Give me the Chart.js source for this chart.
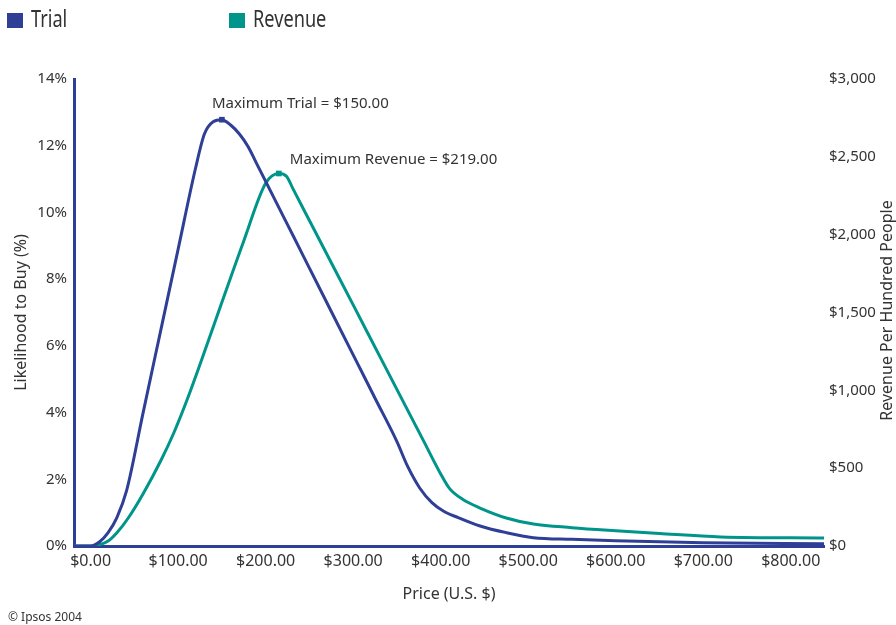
<!DOCTYPE html>
<html lang="en">
<head>
<meta charset="utf-8">
<title>Trial and Revenue by Price</title>
<script src="https://cdn.jsdelivr.net/npm/chart.js@4.4.1/dist/chart.umd.min.js"></script>
<style>
  body { margin: 0; background: #fff; }
  #wrap { position: relative; width: 896px; height: 625px; }
  #chart { position: absolute; left: 0; top: 0; }
  .key { position: absolute; top: 4px; font: 23px "Noto Sans", sans-serif; color: #333; line-height: 28px; white-space: nowrap; }
  .key span { display: inline-block; width: 16px; height: 15px; margin-right: 8px; vertical-align: -1px; }
  .key b { display: inline-block; font-weight: normal; transform: scaleX(0.79); transform-origin: left center; }
  #credit { position: absolute; left: 8px; top: 608px; font: 12px "Noto Sans", sans-serif; color: #333; }
</style>
</head>
<body>
<div id="wrap">
  <canvas id="chart" width="896" height="625"></canvas>
  <div class="key" style="left:7px"><span style="background:#2f3f95"></span><b>Trial</b></div>
  <div class="key" style="left:229px"><span style="background:#00958a"></span><b>Revenue</b></div>
  <div id="credit">© Ipsos 2004</div>
</div>
<script>
// price points (U.S. $)
const trialPrices = [-19, 0, 10, 20, 30, 41, 60, 80, 100, 120, 130, 140, 150, 160, 170, 180, 190, 200, 216, 232, 250, 275, 300, 325, 350, 362, 376, 390, 403, 420, 445, 475, 506, 550, 600, 700, 838];
// likelihood to buy (%)
const trialValues = [0, 0, 0.12, 0.4, 0.85, 1.65, 4.0, 6.45, 8.9, 11.34, 12.35, 12.72, 12.78, 12.62, 12.35, 11.97, 11.45, 10.93, 10.1, 9.27, 8.33, 7.03, 5.73, 4.43, 3.13, 2.4, 1.74, 1.3, 1.05, 0.85, 0.6, 0.4, 0.25, 0.2, 0.16, 0.1, 0.07];

const revenuePrices = [-19, 0, 10, 20, 30, 43, 60, 80, 95, 110, 130, 149, 175, 200, 215, 224, 231, 250, 275, 300, 331, 360, 380, 400, 410, 425, 445, 475, 506, 550, 600, 650, 720, 838];
// revenue per hundred people ($)
const revenueValues = [0, 0, 8, 32, 85, 180, 336, 546, 726, 936, 1246, 1550, 1960, 2330, 2393, 2374, 2297, 2091, 1820, 1549, 1212, 897, 680, 463, 370, 300, 244, 180, 141, 118, 98, 80, 58, 51];

const peakPrices = [150, 215];
const peakValues = [12.78, 2393];
const peakLabels = ['Maximum Trial = $150.00', 'Maximum Revenue = $219.00'];

const xTicks = [0, 100, 200, 300, 400, 500, 600, 700, 800];
const rightTitle = 'Revenue Per Hundred People';

const BLUE = '#2f3f95';
const TEAL = '#00958a';
const TEXT = '#333333';
const FONT = '"Noto Sans", sans-serif';

function pairs(xs, ys) {
  return xs.map((x, i) => ({ x: x, y: ys[i] }));
}

// writes the two "Maximum ..." notes next to the peak markers,
// plus the right axis title which reads upward like the left one
const notes = {
  id: 'notes',
  afterDatasetsDraw(chart) {
    const ctx = chart.ctx;
    const offsets = [[-10, -16], [11, -14]];
    ctx.save();
    ctx.font = '15px ' + FONT;
    ctx.fillStyle = TEXT;
    ctx.textBaseline = 'middle';
    [2, 3].forEach((ds, i) => {
      const pt = chart.getDatasetMeta(ds).data[0];
      ctx.fillText(peakLabels[i], pt.x + offsets[i][0], pt.y + offsets[i][1]);
    });
    const area = chart.chartArea;
    ctx.translate(887, (area.top + area.bottom) / 2 - 2);
    ctx.rotate(-Math.PI / 2);
    ctx.textAlign = 'center';
    ctx.font = '16px ' + FONT;
    ctx.fillText(rightTitle, 0, 0);
    ctx.restore();
  }
};

const ctx = document.getElementById('chart').getContext('2d');
new Chart(ctx, {
  type: 'line',
  data: {
    datasets: [{
      label: 'Trial',
      data: pairs(trialPrices, trialValues),
      yAxisID: 'y',
      borderColor: BLUE,
      borderWidth: 3,
      pointRadius: 0,
      cubicInterpolationMode: 'monotone',
      order: 2
    }, {
      label: 'Revenue',
      data: pairs(revenuePrices, revenueValues),
      yAxisID: 'y2',
      borderColor: TEAL,
      borderWidth: 3,
      pointRadius: 0,
      cubicInterpolationMode: 'monotone',
      order: 3
    }, {
      label: 'Maximum Trial',
      data: [{ x: peakPrices[0], y: peakValues[0] }],
      yAxisID: 'y',
      showLine: false,
      pointStyle: 'rect',
      pointRadius: 4,
      pointBorderWidth: 0,
      pointBackgroundColor: BLUE,
      order: 0
    }, {
      label: 'Maximum Revenue',
      data: [{ x: peakPrices[1], y: peakValues[1] }],
      yAxisID: 'y2',
      showLine: false,
      pointStyle: 'rect',
      pointRadius: 4,
      pointBorderWidth: 0,
      pointBackgroundColor: TEAL,
      order: 1
    }]
  },
  options: {
    responsive: false,
    animation: false,
    devicePixelRatio: 1,
    layout: { padding: { top: 79, left: 0, right: 0, bottom: 0 } },
    plugins: {
      legend: { display: false },
      tooltip: { enabled: false }
    },
    scales: {
      x: {
        type: 'linear',
        min: -19,
        max: 838,
        afterBuildTicks: (s) => { s.ticks = xTicks.map(v => ({ value: v })); },
        afterFit: (s) => { s.height = 79; },
        grid: { display: false, drawTicks: false },
        border: { color: BLUE, width: 3 },
        ticks: {
          padding: 6,
          color: TEXT,
          font: { family: FONT, size: 16 },
          maxRotation: 0,
          callback: (v) => '$' + v.toFixed(2)
        },
        title: {
          display: true,
          text: 'Price (U.S. $)',
          color: TEXT,
          font: { family: FONT, size: 16 },
          padding: { top: 0, bottom: 21 }
        }
      },
      y: {
        position: 'left',
        min: 0,
        max: 14,
        afterFit: (s) => { s.width = 74; },
        grid: { display: false, drawTicks: false },
        border: { color: BLUE, width: 3 },
        ticks: {
          stepSize: 2,
          padding: 7,
          color: TEXT,
          font: { family: FONT, size: 15 },
          callback: (v) => v + '%'
        },
        title: {
          display: true,
          text: 'Likelihood to Buy (%)',
          color: TEXT,
          font: { family: FONT, size: 16 },
          padding: { top: 12, bottom: 0 }
        }
      },
      y2: {
        position: 'right',
        min: 0,
        max: 3000,
        afterFit: (s) => { s.width = 72; },
        grid: { display: false, drawTicks: false },
        border: { display: false },
        ticks: {
          stepSize: 500,
          padding: 5,
          color: TEXT,
          font: { family: FONT, size: 15 },
          callback: (v) => '$' + v.toLocaleString('en-US')
        },
        title: { display: false }
      }
    }
  },
  plugins: [notes]
});
</script>
</body>
</html>
